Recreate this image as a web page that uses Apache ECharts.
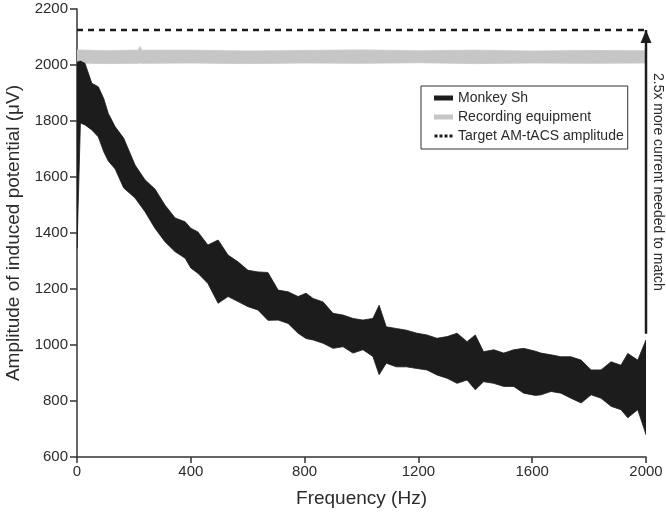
<!DOCTYPE html>
<html>
<head>
<meta charset="utf-8">
<script src="https://cdn.jsdelivr.net/npm/echarts@6/dist/echarts.min.js"></script>
<style>
  html, body { margin: 0; padding: 0; background: #fff; }
  #chart { width: 666px; height: 513px; }
</style>
</head>
<body>
<div id="chart"></div>
<script>
// ---- Data ----
// Monkey Sh: envelope (upper / lower) of the noisy induced-potential trace
const freq = [0, 12, 28, 52, 75, 94, 110, 134, 164, 204, 239, 274, 309, 345, 380, 400, 425, 460, 496, 531, 566, 601, 636, 671, 707, 742, 777, 805, 830, 865, 900, 935, 970, 1005, 1040, 1062, 1087, 1122, 1158, 1195, 1230, 1265, 1301, 1336, 1371, 1400, 1429, 1465, 1500, 1535, 1570, 1611, 1631, 1666, 1701, 1736, 1772, 1807, 1842, 1877, 1912, 1936, 1971, 2000];
const monkeyUpper = [2010, 2014, 2006, 1935, 1922, 1880, 1827, 1780, 1739, 1643, 1590, 1557, 1500, 1454, 1440, 1417, 1404, 1357, 1375, 1321, 1297, 1267, 1261, 1259, 1196, 1190, 1173, 1185, 1166, 1154, 1113, 1107, 1095, 1089, 1095, 1142, 1065, 1059, 1053, 1042, 1036, 1024, 1030, 1042, 1012, 1036, 976, 983, 971, 983, 988, 978, 971, 965, 958, 958, 946, 911, 911, 940, 928, 970, 946, 1018];
const monkeyLower = [1345, 1793, 1786, 1768, 1743, 1690, 1657, 1629, 1561, 1525, 1476, 1417, 1369, 1333, 1310, 1275, 1256, 1220, 1149, 1173, 1155, 1137, 1125, 1088, 1089, 1077, 1042, 1023, 1018, 1006, 988, 994, 971, 983, 959, 894, 935, 922, 922, 916, 911, 893, 881, 863, 875, 840, 869, 863, 852, 852, 828, 820, 822, 834, 828, 810, 793, 822, 810, 781, 769, 740, 769, 680];

// Recording equipment: envelope of the gray trace
const equipFreq  = [0, 100, 200, 214, 221, 228, 400, 600, 800, 1000, 1200, 1400, 1600, 1800, 2000];
const equipUpper = [2054, 2051, 2053, 2053, 2066, 2053, 2053, 2050, 2052, 2054, 2051, 2053, 2050, 2052, 2051];
const equipLower = [2007, 2005, 2006, 2006, 2007, 2006, 2007, 2005, 2007, 2006, 2008, 2005, 2007, 2006, 2007];

// Target AM-tACS amplitude (dashed)
const targetFreq = [0, 2000];
const targetAmp  = [2125, 2125];

// Annotation arrow at the right edge
const arrowFreq = [2000, 2000];
const arrowAmp  = [1040, 2125];
const arrowText = '2.5x more current needed to match';

// Axis setup
const xMin = 0, xMax = 2000, xStep = 400;
const yMin = 600, yMax = 2200, yStep = 200;

const FONT = '"Liberation Sans", Arial, Helvetica, sans-serif';
const AXIS_COLOR = '#333';
const TEXT_COLOR = '#2b2b2b';
const BLACK = '#1c1c1c';
const GRAY = '#c6c6c6';

function bandRenderer(xs, ups, lows, color) {
  return function (params, api) {
    if (params.dataIndex !== 0) return null;
    const pts = [];
    for (let i = 0; i < xs.length; i++) pts.push(api.coord([xs[i], ups[i]]));
    for (let i = xs.length - 1; i >= 0; i--) pts.push(api.coord([xs[i], lows[i]]));
    return {
      type: 'polygon',
      shape: { points: pts },
      style: { fill: color, stroke: color, lineWidth: 0.8 }
    };
  };
}

const chart = echarts.init(document.getElementById('chart'), null, { renderer: 'canvas' });

const option = {
  animation: false,
  textStyle: { fontFamily: FONT },
  grid: { left: 77, right: 20, top: 9, bottom: 56, containLabel: false, outerBoundsMode: 'none' },
  xAxis: {
    type: 'value', min: xMin, max: xMax, interval: xStep,
    name: 'Frequency (Hz)', nameLocation: 'middle', nameGap: 32,
    nameTextStyle: { fontSize: 19, color: TEXT_COLOR, fontFamily: FONT },
    axisLine: { show: true, lineStyle: { color: AXIS_COLOR, width: 1.5 } },
    axisTick: { show: true, length: 6, lineStyle: { color: AXIS_COLOR, width: 1.5 } },
    axisLabel: { fontSize: 15, color: TEXT_COLOR, margin: 7, fontFamily: FONT,
                 formatter: v => String(v) },
    splitLine: { show: false }
  },
  yAxis: {
    type: 'value', min: yMin, max: yMax, interval: yStep,
    name: 'Amplitude of induced potential (μV)', nameLocation: 'middle', nameGap: 49,
    nameTextStyle: { fontSize: 19, color: TEXT_COLOR, fontFamily: FONT },
    axisLine: { show: true, lineStyle: { color: AXIS_COLOR, width: 1.5 } },
    axisTick: { show: true, length: 7, lineStyle: { color: AXIS_COLOR, width: 1.5 } },
    axisLabel: { fontSize: 15, color: TEXT_COLOR, margin: 9, fontFamily: FONT,
                 formatter: v => String(v) },
    splitLine: { show: false }
  },
  legend: {
    orient: 'vertical', left: 421, top: 86,
    padding: [5, 4, 6, 13], itemGap: 5,
    itemWidth: 19, itemHeight: 5,
    borderColor: '#333', borderWidth: 1, backgroundColor: '#fff',
    textStyle: { fontSize: 14, color: TEXT_COLOR, fontFamily: FONT },
    selectedMode: false,
    data: [
      { name: 'Monkey Sh', icon: 'rect', itemStyle: { color: BLACK, borderWidth: 0 } },
      { name: 'Recording equipment', icon: 'rect', itemStyle: { color: GRAY, borderWidth: 0 } },
      { name: 'Target AM-tACS amplitude',
        icon: 'path://M0,0M0,5M0,1h3v3h-3zM5,1h3v3h-3zM10,1h3v3h-3zM15,1h3v3h-3z',
        itemStyle: { color: BLACK, borderWidth: 0 } }
    ]
  },
  series: [
    {
      name: 'Recording equipment', type: 'custom', z: 2,
      itemStyle: { color: GRAY },
      encode: { x: 0, y: [1, 2] },
      data: equipFreq.map((f, i) => [f, equipUpper[i], equipLower[i]]),
      renderItem: bandRenderer(equipFreq, equipUpper, equipLower, GRAY),
      clip: true, silent: true
    },
    {
      name: 'Monkey Sh', type: 'custom', z: 3,
      itemStyle: { color: BLACK },
      encode: { x: 0, y: [1, 2] },
      data: freq.map((f, i) => [f, monkeyUpper[i], monkeyLower[i]]),
      renderItem: bandRenderer(freq, monkeyUpper, monkeyLower, BLACK),
      clip: true, silent: true
    },
    {
      name: 'Target AM-tACS amplitude', type: 'line', z: 4,
      symbol: 'none', silent: true,
      itemStyle: { color: BLACK },
      lineStyle: { color: BLACK, width: 2.5, type: [6, 5] },
      data: targetFreq.map((f, i) => [f, targetAmp[i]])
    },
    {
      name: 'arrow', type: 'line', z: 5, silent: true, clip: false,
      symbol: 'triangle', symbolSize: [11, 13], showSymbol: true,
      itemStyle: { color: BLACK },
      lineStyle: { color: BLACK, width: 2.5 },
      data: [
        { value: [arrowFreq[0], arrowAmp[0]], symbol: 'none' },
        { value: [arrowFreq[1], arrowAmp[1]], symbol: 'triangle', symbolSize: [11, 13], symbolOffset: [0, '50%'] }
      ]
    }
  ]
};

chart.setOption(option);

// rotated annotation text, positioned via the chart's own scales
const mid = (arrowAmp[0] + arrowAmp[1]) / 2;
const p = chart.convertToPixel({ xAxisIndex: 0, yAxisIndex: 0 }, [arrowFreq[0], mid]);
chart.setOption({
  graphic: [{
    type: 'text',
    x: p[0] + 12, y: p[1],
    rotation: -Math.PI / 2,
    silent: true,
    style: {
      text: arrowText,
      fill: TEXT_COLOR,
      font: '14px ' + FONT,
      align: 'center',
      verticalAlign: 'middle'
    }
  }]
});
</script>
</body>
</html>
